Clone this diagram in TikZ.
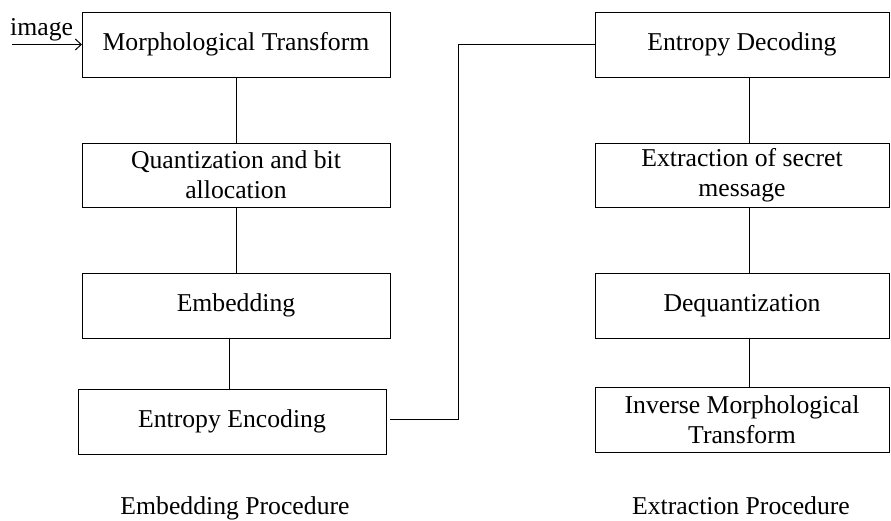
\documentclass[tikz,border=0pt]{standalone}
\usepackage{fontspec}
\setmainfont{Liberation Serif}
\usetikzlibrary{arrows.meta}
\begin{document}
\begin{tikzpicture}[x=1pt,y=-1pt,
  every node/.style={font=\fontsize{25.7}{30}\selectfont},
  stepbox/.style={draw, line width=1pt, inner sep=0pt, outer sep=0pt, align=center, minimum width=#1},
  conn/.style={line width=1pt}]
\useasboundingbox (0,0) rectangle (891,520);
% left column
\node[stepbox=308pt, minimum height=65pt] (m1) at (236,44.5) {Morphological Transform};
\node[stepbox=308pt, minimum height=64pt] (q) at (236,175) {Quantization and bit\\allocation};
\node[stepbox=308pt, minimum height=65pt] (e) at (236,305.5) {Embedding};
\node[stepbox=308pt, minimum height=65pt] (ee) at (232,421.5) {Entropy Encoding};
% right column
\node[stepbox=294pt, minimum height=65pt] (ed) at (742,44.5) {Entropy Decoding};
\node[stepbox=294pt, minimum height=64pt] (ex) at (742,175) {Extraction of secret\\message};
\node[stepbox=294pt, minimum height=65pt] (dq) at (742,305.5) {Dequantization};
\node[stepbox=294pt, minimum height=65pt] (im) at (742,419.5) {Inverse Morphological\\Transform};
% captions
\node[anchor=base, inner sep=0pt] (cap1) at (235,514) {Embedding Procedure};
\node[anchor=base, inner sep=0pt] (cap2) at (741,514) {Extraction Procedure};
% image input
\node[anchor=base west, inner sep=0pt] (imglabel) at (10,35) {image};
\coordinate (imgstart) at (12,44.5);
\draw[conn, -{Straight Barb[length=6pt,width=11pt]}] (imgstart) -- (m1.west);
% left connectors
\draw[conn] (m1) -- (q);
\draw[conn] (q) -- (e);
\coordinate (ebot) at ([xshift=-7pt]e.south);
\draw[conn] (ebot) -- (ebot |- ee.north);
% right connectors
\coordinate (edb) at ([xshift=7.5pt]ed.south);
\coordinate (exb) at ([xshift=7.5pt]ex.south);
\coordinate (dqb) at ([xshift=7.5pt]dq.south);
\draw[conn] (edb) -- (edb |- ex.north);
\draw[conn] (exb) -- (exb |- dq.north);
\draw[conn] (dqb) -- (dqb |- im.north);
% cross connector
\coordinate (j) at (458,0);
\coordinate (eeout) at ([xshift=4pt,yshift=2.5pt]ee.east);
\draw[conn] (eeout) -- (eeout -| j) -- (j |- ed.west) -- (ed.west);
\end{tikzpicture}
\end{document}
